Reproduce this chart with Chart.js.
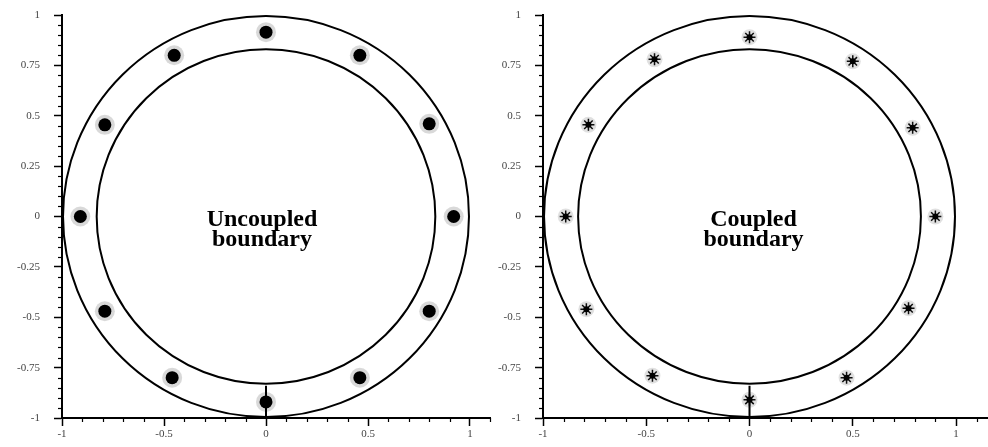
<!DOCTYPE html>
<html>
<head>
<meta charset="utf-8">
<script src="https://cdn.jsdelivr.net/npm/chart.js@4.4.1/dist/chart.umd.min.js"></script>
<style>
  html, body { margin: 0; padding: 0; background: #fff; }
  #wrap { position: relative; width: 988px; height: 447px; }
  .panel { position: absolute; top: 0; width: 494px; height: 447px; }
</style>
</head>
<body>
<div id="wrap">
  <div class="panel" style="left:0"><canvas id="leftChart" width="494" height="447"></canvas></div>
  <div class="panel" style="left:494px"><canvas id="rightChart" width="494" height="447"></canvas></div>
</div>
<script>
const xTicks = [-1, -0.5, 0, 0.5, 1];
const yTicks = [-1, -0.75, -0.5, -0.25, 0, 0.25, 0.5, 0.75, 1];

// ring boundaries (radius, in axis units)
const outerRadius = 0.995;
const innerRadius = 0.83;

// particle cluster centres, uncoupled boundary
const leftX = [0, 0.46, 0.80, 0.92, 0.80, 0.46, 0, -0.46, -0.79, -0.91, -0.79, -0.45];
const leftY = [0.915, 0.80, 0.46, 0, -0.47, -0.80, -0.92, -0.80, -0.47, 0, 0.455, 0.80];

// particle cluster centres, coupled boundary
const rightX = [0, 0.50, 0.79, 0.90, 0.77, 0.47, 0, -0.47, -0.79, -0.89, -0.78, -0.46];
const rightY = [0.89, 0.77, 0.44, 0, -0.455, -0.80, -0.91, -0.79, -0.46, 0, 0.455, 0.78];

// short vertical mark at the bottom of each ring
const markX = [0, 0];
const markY = [-0.84, -1];

function pts(xs, ys) {
  return xs.map((x, i) => ({ x: x, y: ys[i] }));
}

const ringPlugin = {
  id: 'rings',
  beforeDatasetsDraw(chart) {
    const { ctx, scales: { x, y } } = chart;
    const cx = x.getPixelForValue(0);
    const cy = y.getPixelForValue(0);
    ctx.save();
    ctx.strokeStyle = '#000';
    ctx.lineWidth = 2;
    [outerRadius, innerRadius].forEach(r => {
      const rx = x.getPixelForValue(r) - cx;
      const ry = cy - y.getPixelForValue(r);
      ctx.beginPath();
      ctx.ellipse(cx, cy, rx, ry, 0, 0, Math.PI * 2);
      ctx.stroke();
    });
    ctx.restore();
  },
  afterDraw(chart, args, opts) {
    const { ctx, chartArea, scales: { x, y } } = chart;
    ctx.save();
    ctx.strokeStyle = '#000';
    ctx.lineWidth = 1.2;
    // minor ticks
    for (let v = -1; v <= x.max + 1e-6; v += 0.1) {
      if (Math.abs(v * 2 - Math.round(v * 2)) < 1e-6 && v <= 1.0001) continue;
      const px = Math.round(x.getPixelForValue(v)) + 0.5;
      ctx.beginPath();
      ctx.moveTo(px, chartArea.bottom);
      ctx.lineTo(px, chartArea.bottom + 4);
      ctx.stroke();
    }
    for (let v = -1; v <= 1.0001; v += 0.05) {
      if (Math.abs(v * 4 - Math.round(v * 4)) < 1e-6) continue;
      const py = Math.round(y.getPixelForValue(v)) + 0.5;
      ctx.beginPath();
      ctx.moveTo(chartArea.left - 4, py);
      ctx.lineTo(chartArea.left, py);
      ctx.stroke();
    }
    // centre label
    const cx = x.getPixelForValue(0) + (opts.dx || 0);
    const cy = y.getPixelForValue(0);
    ctx.fillStyle = '#000';
    ctx.font = 'bold 24px "Liberation Serif", "DejaVu Serif", serif';
    ctx.textAlign = 'center';
    ctx.textBaseline = 'alphabetic';
    ctx.fillText(opts.label[0], cx, cy + 9);
    ctx.fillText(opts.label[1], cx, cy + 29);
    ctx.restore();
  }
};

function makeChart(id, xs, ys, cfg) {
  const datasets = [
    {
      data: pts(xs, ys),
      pointRadius: cfg.haloRadius,
      pointBackgroundColor: cfg.haloColor,
      pointBorderWidth: 0,
      showLine: false
    },
    {
      data: pts(xs, ys),
      pointRadius: cfg.coreRadius,
      pointBackgroundColor: '#000',
      pointBorderColor: '#000',
      pointBorderWidth: 0,
      showLine: false
    },
    {
      data: pts(markX, markY),
      showLine: true,
      borderColor: '#000',
      borderWidth: 2,
      pointRadius: 0
    }
  ];
  if (cfg.star) {
    datasets.push({
      data: pts(xs, ys),
      pointStyle: 'star',
      pointRadius: 6,
      pointBorderColor: '#111',
      pointBorderWidth: 1.5,
      pointBackgroundColor: '#111',
      showLine: false
    });
  }

  return new Chart(document.getElementById(id), {
    type: 'scatter',
    data: { datasets: datasets },
    options: {
      responsive: false,
      animation: false,
      devicePixelRatio: 1,
      layout: { autoPadding: false, padding: { top: 15, right: cfg.padRight, left: 0, bottom: 0 } },
      plugins: {
        legend: { display: false },
        tooltip: { enabled: false },
        rings: { label: cfg.label, dx: cfg.dx }
      },
      scales: {
        x: {
          type: 'linear',
          min: -1,
          max: cfg.xMax,
          afterBuildTicks: s => { s.ticks = xTicks.map(v => ({ value: v })); },
          afterFit: s => { s.height = 29; s.paddingLeft = 0; s.paddingRight = 0; },
          ticks: {
            padding: 2,
            color: '#444',
            font: { family: '"Liberation Serif", serif', size: 11 },
            callback: v => String(v)
          },
          grid: {
            drawOnChartArea: false,
            drawTicks: true,
            tickLength: 8,
            tickColor: '#000',
            tickWidth: 1.5
          },
          border: { display: true, color: '#000', width: 2 }
        },
        y: {
          type: 'linear',
          min: -1,
          max: 1,
          afterBuildTicks: s => { s.ticks = yTicks.map(v => ({ value: v })); },
          afterFit: s => { s.width = cfg.yWidth; s.paddingTop = 0; s.paddingBottom = 0; },
          ticks: {
            padding: 14,
            color: '#444',
            font: { family: '"Liberation Serif", serif', size: 11 },
            callback: v => String(v)
          },
          grid: {
            drawOnChartArea: false,
            drawTicks: true,
            tickLength: 8,
            tickColor: '#000',
            tickWidth: 1.5
          },
          border: { display: true, color: '#000', width: 2 }
        }
      }
    },
    plugins: [ringPlugin]
  });
}

makeChart('leftChart', leftX, leftY, {
  xMax: 1.1, yWidth: 62, padRight: 3.6,
  haloRadius: 10, haloColor: 'rgba(0,0,0,0.15)', coreRadius: 6.5,
  star: false, label: ['Uncoupled', 'boundary'], dx: -4
});

makeChart('rightChart', rightX, rightY, {
  xMax: 1.15, yWidth: 49, padRight: 1,
  haloRadius: 8, haloColor: 'rgba(0,0,0,0.12)', coreRadius: 3,
  star: true, label: ['Coupled', 'boundary'], dx: 4
});
</script>
</body>
</html>
